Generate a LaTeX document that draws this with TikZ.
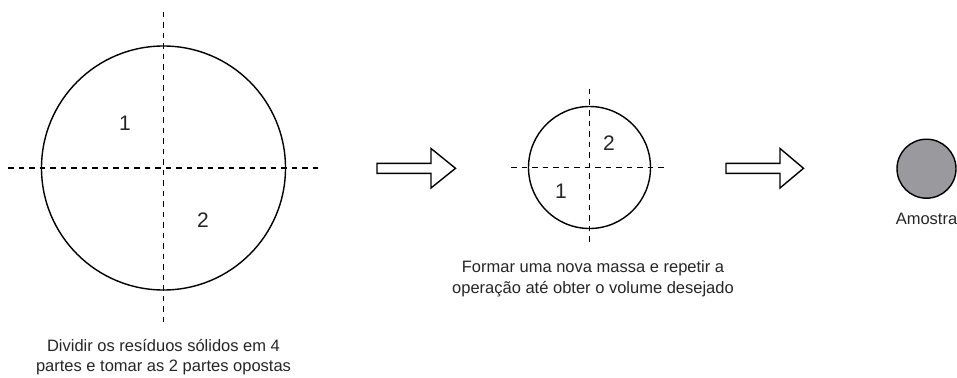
\documentclass[tikz,border=0pt]{standalone}
\usepackage{fontspec}
\setmainfont{Liberation Sans}
\definecolor{samplegray}{RGB}{153,153,158}
\begin{document}
\begin{tikzpicture}[x=1pt,y=-1pt,
  circ/.style={draw=black,line width=1.4pt},
  cut/.style={draw=black,line width=1.3pt,dash pattern=on 5.5pt off 5pt},
  bigarrow/.style={draw=black,line width=1.4pt,fill=white,line join=miter},
  num/.style={font=\fontsize{21}{24}\selectfont,text=black!85},
  caption/.style={font=\fontsize{16.5}{20.5}\selectfont,align=center,text=black!85}]
\useasboundingbox (0,0) rectangle (957,377);
% big circle
\coordinate (c1) at (163.5,168);
\draw[circ] (c1) circle (122);
\draw[cut] (8,168) -- (320,168);
\draw[cut] (163.5,12) -- (163.5,323);
\node[num] (n11) at (125,123) {1};
\node[num] (n12) at (203,220) {2};
\node[caption] (t1) at (163.5,357) {Dividir os resíduos sólidos em 4\\partes e tomar as 2 partes opostas};
% small circle
\coordinate (c2) at (589.5,167.5);
\draw[circ] (c2) circle (61);
\draw[cut] (511,167.5) -- (665,167.5);
\draw[cut] (589.5,89) -- (589.5,243);
\node[num] (n21) at (609,143) {2};
\node[num] (n22) at (561,191) {1};
\node[caption] (t2) at (593,279) {Formar uma nova massa e repetir a\\operação até obter o volume desejado};
% arrows
\draw[bigarrow] (377,163.3) -- (431,163.3) -- (431,148.5) -- (455.5,168.3) -- (431,188) -- (431,173.3) -- (377,173.3) -- cycle;
\draw[bigarrow] (726,163.3) -- (780,163.3) -- (780,148.5) -- (803.5,168.3) -- (780,188) -- (780,173.3) -- (726,173.3) -- cycle;
% sample
\node[circle,draw=black,line width=1.4pt,fill=samplegray,minimum size=59pt,inner sep=0pt] (s) at (926.5,168.7) {};
\node[caption,anchor=north] (t3) at (926.5,210) {Amostra};
\end{tikzpicture}
\end{document}
